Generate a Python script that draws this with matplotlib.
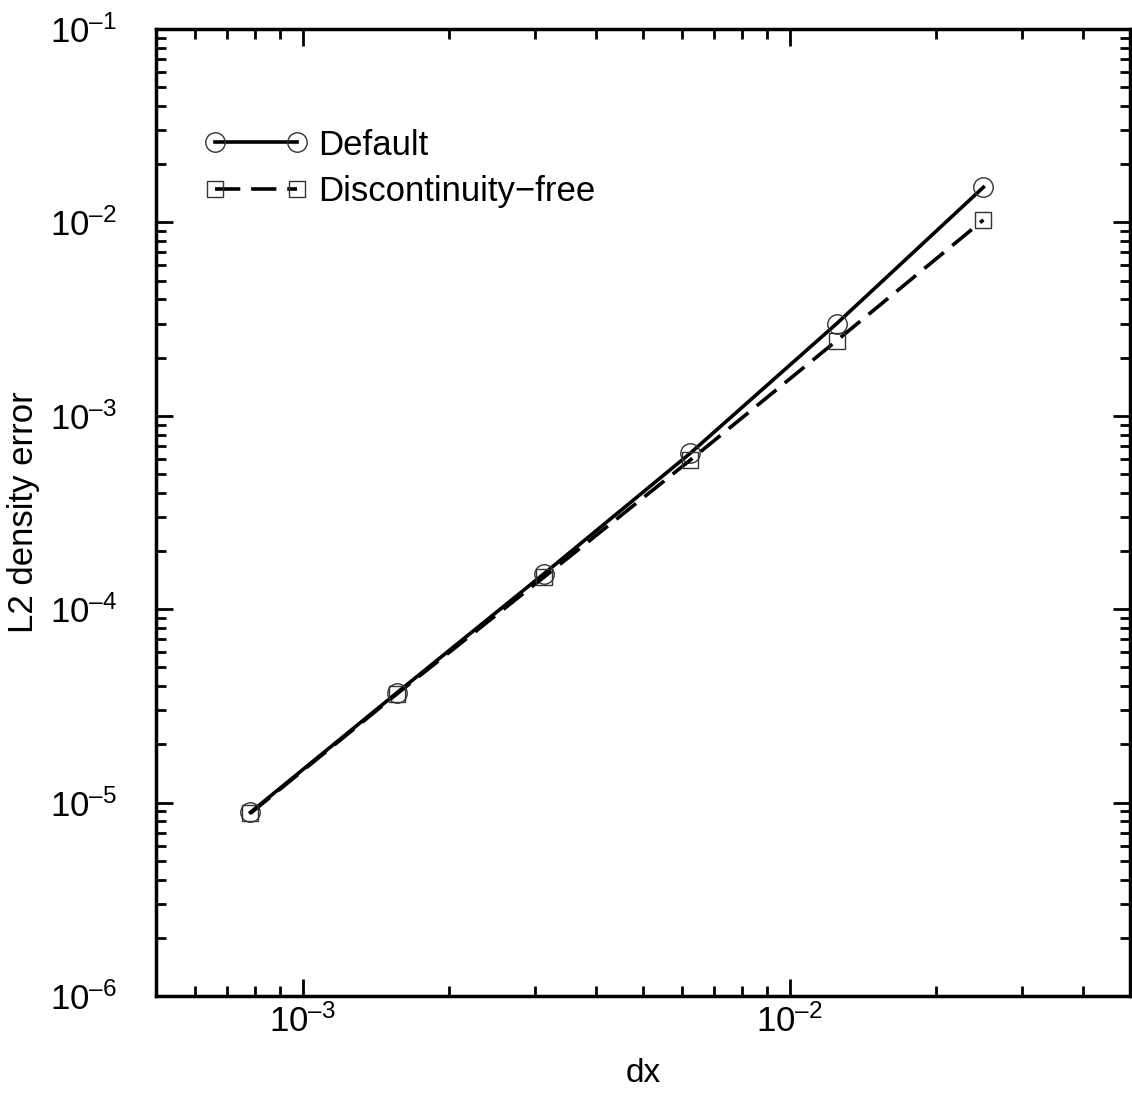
import numpy as np
import matplotlib
matplotlib.use("Agg")
import matplotlib.pyplot as plt
from matplotlib.ticker import LogLocator, NullFormatter, FuncFormatter

plt.rcParams['font.family'] = ['Liberation Sans', 'DejaVu Sans']
plt.rcParams['mathtext.fontset'] = 'custom'
plt.rcParams['mathtext.rm'] = 'Liberation Sans'
plt.rcParams['mathtext.it'] = 'Liberation Sans'

# grid spacing and L2 density errors
dx = [7.8125e-4, 1.5625e-3, 3.125e-3, 6.25e-3, 1.25e-2, 2.5e-2]
err_default = [8.9e-6, 3.7e-5, 1.52e-4, 6.4e-4, 3.0e-3, 1.52e-2]
err_free = [8.8e-6, 3.65e-5, 1.46e-4, 5.9e-4, 2.45e-3, 1.03e-2]


def sci(v, pos):
    e = int(round(np.log10(v)))
    if e < 0:
        return '$10^{\\text{\u2013%d}}$' % (-e)
    return '$10^{%d}$' % e


fig = plt.figure(figsize=(11.32, 10.93), dpi=100)
ax = fig.add_axes([156 / 1132, 1 - 996 / 1093, (1130 - 156) / 1132, (996 - 29) / 1093])

ax.plot(dx, err_default, '-', color='black', lw=2.6, marker='o', ms=14,
        mfc='none', mec='#333333', mew=1.0, label='Default')
ax.plot(dx, err_free, '--', color='black', lw=2.6, marker='s', ms=11,
        mfc='none', mec='#333333', mew=1.0, dashes=(7, 3), label='Discontinuity\u2212free')

ax.set_xscale('log')
ax.set_yscale('log')
ax.set_xlim(5e-4, 5e-2)
ax.set_ylim(1e-6, 1e-1)

ax.xaxis.set_major_locator(LogLocator(base=10, numticks=10))
ax.xaxis.set_minor_locator(LogLocator(base=10, subs=np.arange(2, 10), numticks=20))
ax.yaxis.set_minor_locator(LogLocator(base=10, subs=np.arange(2, 10), numticks=20))
ax.xaxis.set_major_formatter(FuncFormatter(sci))
ax.yaxis.set_major_formatter(FuncFormatter(sci))
ax.xaxis.set_minor_formatter(NullFormatter())
ax.yaxis.set_minor_formatter(NullFormatter())

ax.tick_params(which='both', direction='in', top=True, right=True, labelsize=25, width=2)
ax.tick_params(which='major', length=12)
ax.tick_params(which='minor', length=7)
ax.tick_params(axis='x', which='major', pad=6)
ax.tick_params(axis='y', which='major', pad=28)
for s in ax.spines.values():
    s.set_linewidth(2.5)

ax.set_xlabel('dx', fontsize=24, labelpad=14)
ax.set_ylabel('L2 density error', fontsize=25)
ax.yaxis.set_label_coords(-0.119, 0.5)

ax.legend(loc='upper left', bbox_to_anchor=(0.050, 0.897), frameon=False, fontsize=25,
          numpoints=2, handlelength=2.96, handletextpad=0.32, labelspacing=0.38,
          borderpad=0, borderaxespad=0)

fig.savefig('out.png', dpi=100)
